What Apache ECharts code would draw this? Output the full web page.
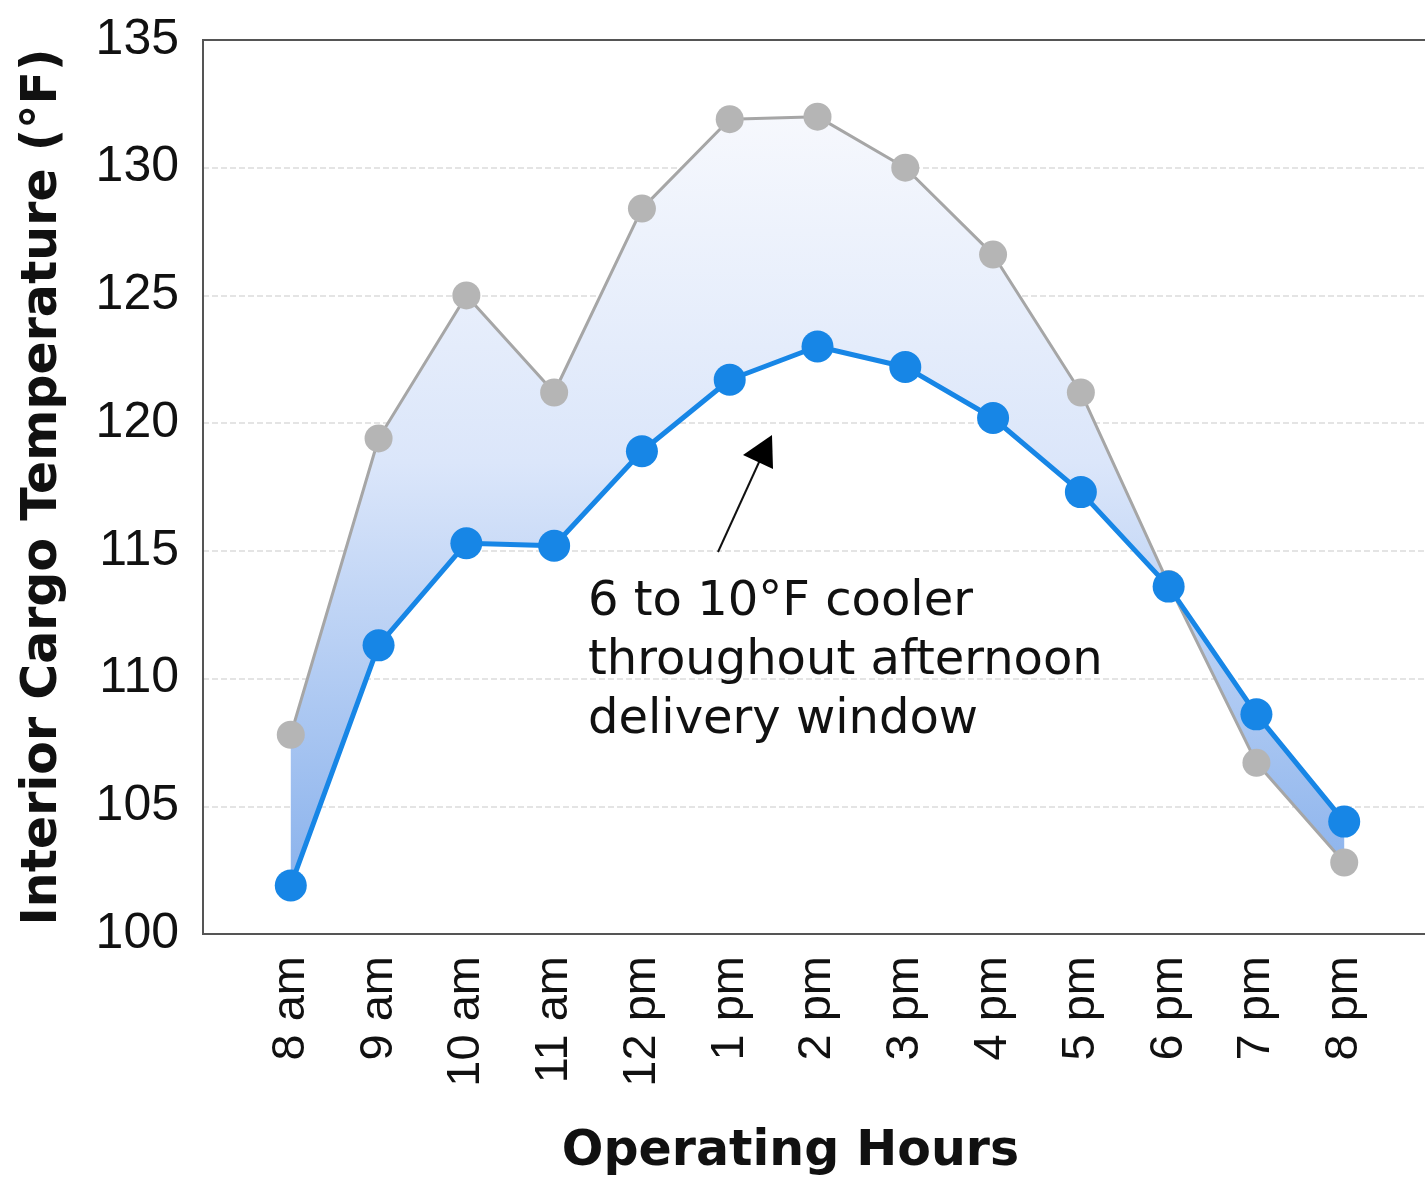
<!DOCTYPE html>
<html>
<head>
<meta charset="utf-8">
<script src="https://cdn.jsdelivr.net/npm/echarts@6/dist/echarts.min.js"></script>
<style>
  html, body { margin: 0; padding: 0; background: #fff; overflow: hidden; }
  /* chart is a bit wider than the window: the right border falls just off-screen */
  #chart { width: 1440px; height: 1182px; }
</style>
</head>
<body>
<div id="chart"></div>
<script>
// operating hours (x axis)
const hours = ['8 am', '9 am', '10 am', '11 am', '12 pm', '1 pm', '2 pm', '3 pm', '4 pm', '5 pm', '6 pm', '7 pm', '8 pm']
// grey line: standard cargo
const standardTemp = [107.8, 119.4, 125.0, 121.2, 128.4, 131.9, 132.0, 130.0, 126.6, 121.2, 113.7, 106.7, 102.8]
// blue line: cooler cargo
const coolerTemp = [101.9, 111.3, 115.3, 115.2, 118.9, 121.7, 123.0, 122.2, 120.2, 117.3, 113.6, 108.6, 104.4]
const yTicks = [100, 105, 110, 115, 120, 125, 130, 135]

// axis has an empty slot on each side of the hours
const pad = arr => ['-', ...arr, '-']
const axisCats = ['', ...hours, '']
const bandBase = pad(standardTemp.map((v, i) => Math.min(v, coolerTemp[i])))
const bandSize = pad(standardTemp.map((v, i) => Math.abs(v - coolerTemp[i])))

const font = 'Liberation Sans, Arial, sans-serif'
const titleFont = 'DejaVu Sans, sans-serif'
const chart = echarts.init(document.getElementById('chart'))

chart.setOption({
  animation: false,
  backgroundColor: '#fff',
  grid: {
    left: 203, top: 40, width: 1229, height: 900,
    show: true, borderColor: '#555', borderWidth: 2,
  },
  xAxis: {
    type: 'category',
    data: axisCats,
    boundaryGap: false,
    name: 'Operating Hours',
    nameLocation: 'middle',
    nameGap: 194,
    nameTextStyle: { fontFamily: titleFont, fontSize: 49, fontWeight: 'bold', color: '#111', padding: [0, 54, 0, 0] },
    axisLine: { show: true, lineStyle: { color: '#555', width: 2 } },
    axisTick: { show: false },
    axisLabel: { rotate: 90, margin: 22, fontFamily: font, fontSize: 47, color: '#111', interval: 0 },
    splitLine: { show: false },
  },
  yAxis: {
    type: 'value',
    min: yTicks[0],
    max: yTicks[yTicks.length - 1],
    interval: 5,
    name: 'Interior Cargo Temperature (°F)',
    nameLocation: 'middle',
    nameGap: 135,
    nameTextStyle: { fontFamily: titleFont, fontSize: 49, fontWeight: 'bold', color: '#111' },
    axisLine: { show: true, lineStyle: { color: '#555', width: 2 } },
    axisTick: { show: false },
    axisLabel: { margin: 24, fontFamily: font, fontSize: 50, color: '#111' },
    splitLine: {
      show: true, showMinLine: false, showMaxLine: false,
      lineStyle: { color: '#dcdcdc', type: 'dashed', width: 1.5 },
    },
  },
  series: [
    {
      type: 'line',
      stack: 'band',
      data: bandBase,
      symbol: 'none',
      lineStyle: { opacity: 0 },
      silent: true,
      z: 1,
    },
    {
      type: 'line',
      stack: 'band',
      data: bandSize,
      symbol: 'none',
      lineStyle: { opacity: 0 },
      areaStyle: {
        opacity: 1,
        color: new echarts.graphic.LinearGradient(0, 0, 0, 1, [
          { offset: 0, color: '#f6f8fd' },
          { offset: 0.45, color: '#dbe6fa' },
          { offset: 1, color: '#8ab2ec' },
        ]),
      },
      silent: true,
      z: 1,
    },
    {
      type: 'line',
      data: pad(standardTemp),
      symbol: 'circle',
      symbolSize: 28,
      itemStyle: { color: '#b5b5b5' },
      lineStyle: { color: '#a6a6a6', width: 3 },
      z: 3,
    },
    {
      type: 'line',
      data: pad(coolerTemp),
      symbol: 'circle',
      symbolSize: 32,
      itemStyle: { color: '#1786e6' },
      lineStyle: { color: '#1786e6', width: 5 },
      z: 4,
    },
  ],
  graphic: [
    {
      type: 'text',
      left: 588,
      top: 573,
      style: {
        text: '6 to 10°F cooler\nthroughout afternoon\ndelivery window',
        font: '48px "DejaVu Sans", sans-serif',
        lineHeight: 59,
        fill: '#111',
      },
      z: 10,
    },
    {
      type: 'polyline',
      shape: { points: [[718, 552], [760, 460]] },
      style: { stroke: '#111', lineWidth: 2 },
      z: 10,
    },
    {
      type: 'polygon',
      shape: { points: [[772, 435], [743, 455], [773, 469]] },
      style: { fill: '#000' },
      z: 10,
    },
  ],
})
</script>
</body>
</html>
